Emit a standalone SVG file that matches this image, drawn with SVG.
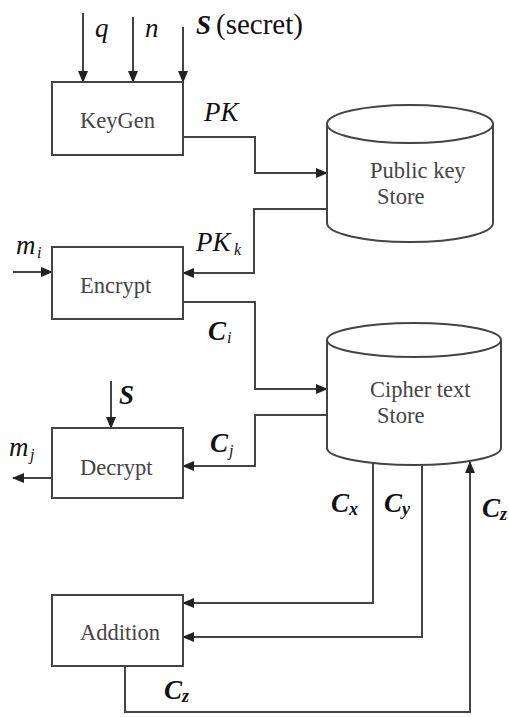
<svg xmlns="http://www.w3.org/2000/svg" width="509" height="717" viewBox="0 0 509 717">
<style>
.box{fill:#fff;stroke:#444;stroke-width:2}
.cyl{fill:#fff;stroke:#444;stroke-width:2}
.ln{fill:none;stroke:#444;stroke-width:2}
.bt{font-family:"Liberation Serif",serif;font-size:22.5px;fill:#444}
.m{font-family:"Liberation Serif",serif;font-size:27px;font-style:italic;fill:#111}
.mb{font-family:"Liberation Serif",serif;font-size:27px;font-style:italic;font-weight:bold;fill:#111}
.sub{font-family:"Liberation Serif",serif;font-size:16px;font-style:italic;fill:#111}
.subb{font-family:"Liberation Serif",serif;font-size:18px;font-style:italic;font-weight:bold;fill:#111}
.r{font-family:"Liberation Serif",serif;font-size:29px;fill:#111}
</style>
<defs>
<marker id="ah" markerUnits="userSpaceOnUse" markerWidth="12" markerHeight="10" refX="11" refY="5" orient="auto">
<path d="M0,0 L12,5 L0,10 Z" fill="#222"/>
</marker>
</defs>
<rect width="509" height="717" fill="#fff"/>
<g id="connectors">
<line class="ln" x1="83" y1="13" x2="83" y2="82" marker-end="url(#ah)"/>
<line class="ln" x1="133" y1="17" x2="133" y2="82" marker-end="url(#ah)"/>
<line class="ln" x1="183" y1="27" x2="183" y2="82" marker-end="url(#ah)"/>
<path class="ln" d="M183,137 H255 V173 H327" marker-end="url(#ah)"/>
<path class="ln" d="M327,209 H254 V273 H183" marker-end="url(#ah)"/>
<line class="ln" x1="13" y1="272" x2="52" y2="272" marker-end="url(#ah)"/>
<path class="ln" d="M183,302 H255 V389 H327" marker-end="url(#ah)"/>
<line class="ln" x1="111" y1="381" x2="111" y2="428" marker-end="url(#ah)"/>
<path class="ln" d="M327,415 H255 V466 H183" marker-end="url(#ah)"/>
<line class="ln" x1="52" y1="478" x2="13" y2="478" marker-end="url(#ah)"/>
<path class="ln" d="M373,463 V603 H183" marker-end="url(#ah)"/>
<path class="ln" d="M422,465 V637 H183" marker-end="url(#ah)"/>
<path class="ln" d="M125,666 V712 H470 V462" marker-end="url(#ah)"/>
</g>
<g id="keygen">
<rect class="box" x="52" y="82" width="131" height="73"/>
<text class="bt" x="80" y="128">KeyGen</text>
</g>
<g id="pkstore">
<path class="cyl" d="M327,124 V223 A83,19 0 0 0 493,223 V124"/>
<ellipse class="cyl" cx="410" cy="124" rx="83" ry="19"/>
<text class="bt" x="370" y="178">Public key</text>
<text class="bt" x="377" y="204">Store</text>
</g>
<g id="encrypt">
<rect class="box" x="52" y="247" width="131" height="72"/>
<text class="bt" x="80" y="293">Encrypt</text>
</g>
<g id="cipherstore">
<path class="cyl" d="M327,340 V448 A87,17 0 0 0 501,448 V340"/>
<ellipse class="cyl" cx="414" cy="340" rx="87" ry="17"/>
<text class="bt" x="370" y="397">Cipher text</text>
<text class="bt" x="377" y="423">Store</text>
</g>
<g id="decrypt">
<rect class="box" x="52" y="428" width="131" height="70"/>
<text class="bt" x="80" y="475">Decrypt</text>
</g>
<g id="addition">
<rect class="box" x="52" y="595" width="131" height="71"/>
<text class="bt" x="80" y="640">Addition</text>
</g>
<g id="labels">
<text class="m" x="95" y="37">q</text>
<text class="m" x="145" y="37">n</text>
<text class="mb" x="196" y="34">S</text>
<text class="r" x="216" y="34">(secret)</text>
<text class="m" x="204" y="121">PK</text>
<text class="m" x="196" y="251">PK</text><text class="sub" x="234" y="255">k</text>
<text class="m" x="16" y="254">m</text><text class="sub" x="37" y="258">i</text>
<text class="mb" x="208" y="340">C</text><text class="sub" x="227" y="343">i</text>
<text class="mb" x="119" y="404">S</text>
<text class="m" x="9" y="456">m</text><text class="sub" x="30" y="460">j</text>
<text class="mb" x="210" y="452">C</text><text class="sub" x="229" y="456">j</text>
<text class="mb" x="331" y="512">C</text><text class="subb" x="349" y="515">x</text>
<text class="mb" x="384" y="512">C</text><text class="subb" x="402" y="515">y</text>
<text class="mb" x="482" y="517">C</text><text class="subb" x="500" y="520">z</text>
<text class="mb" x="164" y="699">C</text><text class="subb" x="182" y="702">z</text>
</g>
</svg>
